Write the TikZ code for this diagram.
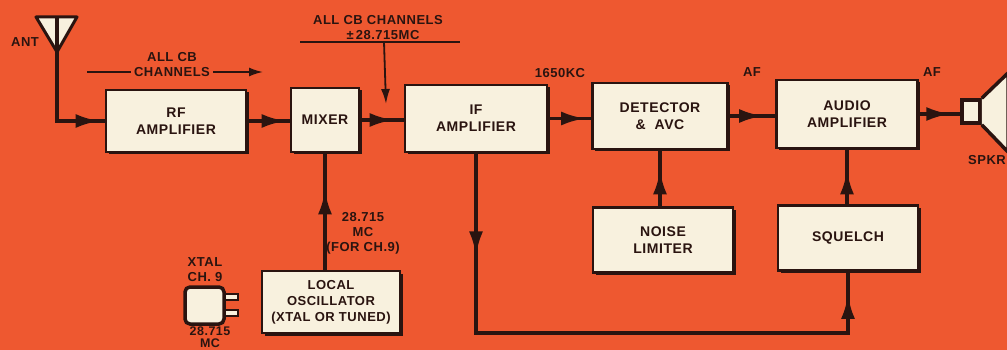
\documentclass[tikz,border=0pt]{standalone}
\usepackage{fontspec}
\setmainfont{Liberation Sans}[LetterSpace=4]
\usetikzlibrary{arrows.meta,decorations.markings,shadows}
\definecolor{bg}{RGB}{238,88,48}
\definecolor{ink}{RGB}{42,20,16}
\definecolor{cream}{RGB}{248,241,222}
\begin{document}
\begin{tikzpicture}[x=1pt,y=-1pt,
  blk/.style={draw=ink, fill=cream, line width=2.8pt, inner sep=0pt, align=center,
    font=\fontsize{14}{17}\selectfont\bfseries, text=ink,
    drop shadow={shadow xshift=2.5pt, shadow yshift=-2.5pt, fill=ink, opacity=1}},
  lbl/.style={font=\fontsize{13}{15}\selectfont\bfseries, text=ink, align=center, inner sep=0pt},
  conn/.style={draw=ink, line width=3.6pt},
  thin/.style={draw=ink, line width=1.8pt},
  bigtip/.tip={Latex[length=24pt,width=14pt]},
  midarr/.style={postaction={decorate}, decoration={markings,
    mark=at position #1 with {\arrow{bigtip}}}},
]
\fill[bg] (0,0) rectangle (1007,350);
\useasboundingbox (0,0) rectangle (1007,350);

% blocks
\node[blk, minimum width=140pt, minimum height=62pt] (rf) at (176,121) {RF\\AMPLIFIER};
\node[blk, minimum width=68pt, minimum height=64pt] (mix) at (325,120) {MIXER};
\node[blk, minimum width=142pt, minimum height=67pt] (ifa) at (476,118.5) {IF\\AMPLIFIER};
\node[blk, minimum width=135pt, minimum height=66pt] (det) at (660,116) {DETECTOR\\\&\ \ AVC};
\node[blk, minimum width=141pt, minimum height=68pt] (aud) at (847,114) {AUDIO\\AMPLIFIER};
\node[blk, minimum width=140pt, minimum height=65pt] (noise) at (663,240) {NOISE\\LIMITER};
\node[blk, minimum width=140pt, minimum height=65pt] (sq) at (848,238) {SQUELCH};
\node[blk, minimum width=138pt, minimum height=62pt, font=\fontsize{13}{16}\selectfont\bfseries] (lo) at (331,302) {LOCAL\\OSCILLATOR\\(XTAL OR TUNED)};

% antenna
\coordinate (antL) at (36,17);
\coordinate (antR) at (77,17);
\coordinate (antB) at (57,52);
\coordinate (antT) at (57,17);
\filldraw[fill=cream, draw=ink, line width=3pt, line join=round] (antL) -- (antR) -- (antB) -- cycle;
\draw[conn] (antT) -- (antB);
\node[lbl] (antlbl) at (25,42) {ANT};
\draw[conn, midarr=-5pt] (antB) |- (rf.west);

% speaker
\node[draw=ink, fill=cream, line width=3.5pt, minimum width=18pt, minimum height=23pt, inner sep=0pt] (spk) at (971,111.5) {};
\filldraw[fill=cream, draw=ink, line width=3.5pt, line join=round] (spk.north east) -- (1008,73) -- (1008,152) -- (spk.south east);
\node[lbl] (spkr) at (987,160) {SPKR};

% main chain
\draw[conn, midarr=-4pt] (rf.east) -- (rf.east -| mix.west);
\draw[conn, midarr=-10pt] (mix.east) -- (mix.east -| ifa.west);
\draw[conn, midarr=-6pt] (ifa.east) -- (ifa.east -| det.west);
\draw[conn, midarr=-12pt] (det.east) -- (det.east -| aud.west);
\draw[conn, midarr=-10pt] (aud.east) -- (aud.east -| spk.west);

% vertical feeds
\draw[conn, midarr=-37pt] (mix.south |- lo.north) -- (mix.south);
\draw[conn, midarr=-20pt] (det.south |- noise.north) -- (det.south);
\draw[conn, midarr=-21pt] (aud.south |- sq.north) -- (aud.south);

% IF to squelch loop
\coordinate (loopy) at (0,333);
\draw[conn, postaction={decorate}, decoration={markings,
    mark=at position 102pt with {\arrow{bigtip}},
    mark=at position -23pt with {\arrow{bigtip}}}]
  (ifa.south) -- (ifa.south |- loopy) -| (sq.south);

% labels
\node[lbl] (allcb1) at (172,57) {ALL CB};
\node[lbl] (chan) at (172,72) {CHANNELS};
\coordinate (chL) at (87,72);
\coordinate (chR) at (263,72);
\draw[thin] (chL) -- ([xshift=-3pt]chan.west);
\draw[thin, -{Latex[length=14pt,width=9pt]}] ([xshift=3pt]chan.east) -- (chR);

\node[lbl] (allcb2) at (378,20) {ALL CB CHANNELS};
\node[lbl] (pm) at (383,35) {±\,28.715MC};
\coordinate (ruleL) at (300,42);
\coordinate (ruleR) at (460,42);
\coordinate (ruleM) at (384,42);
\coordinate (ruleTip) at (386,104);
\draw[thin] (ruleL) -- (ruleR);
\draw[thin, -{Latex[length=15pt,width=9pt]}] (ruleM) -- (ruleTip);

\node[lbl] (kc) at (560,73) {1650KC};
\node[lbl] (af1) at (752,72) {AF};
\node[lbl] (af2) at (932,72) {AF};

\node[lbl] (lof) at (363,233) {28.715\\MC\\(FOR CH.9)};

% crystal
\node[lbl] (xtl) at (205,269.5) {XTAL\\CH. 9};
\node[lbl, font=\fontsize{12.5}{12}\selectfont\bfseries] (xtf) at (210,337) {28.715\\MC};
\filldraw[fill=cream, draw=ink, line width=1.8pt] (222,294) rectangle (238,300);
\filldraw[fill=cream, draw=ink, line width=1.8pt] (222,310) rectangle (238,316);
\node[draw=ink, fill=cream, line width=3.5pt, rounded corners=5pt, minimum width=39pt, minimum height=37pt, inner sep=0pt] (xtal) at (204.5,305.5) {};
\end{tikzpicture}
\end{document}
